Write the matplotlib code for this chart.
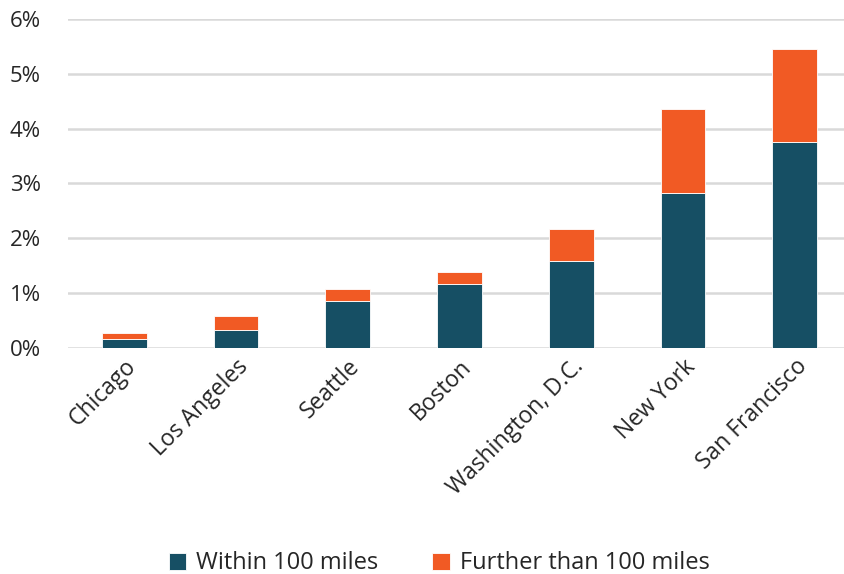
import matplotlib.pyplot as plt
import numpy as np

plt.rcParams['font.family'] = ['Open Sans', 'DejaVu Sans']

cities = ["Chicago", "Los Angeles", "Seattle", "Boston", "Washington, D.C.", "New York", "San Francisco"]
within = [0.17, 0.33, 0.85, 1.17, 1.59, 2.83, 3.76]
total = [0.27, 0.58, 1.07, 1.38, 2.16, 4.36, 5.45]
further = [t - w for t, w in zip(total, within)]

teal = "#164F64"
orange = "#F15A24"

fig = plt.figure(figsize=(8.44, 5.74), dpi=100)
ax = fig.add_axes([0.081, 0.394, 0.919, 0.573])

x = np.arange(len(cities))
ax.bar(x, within, 0.4, color=teal, edgecolor="white", linewidth=0.6, label="Within 100 miles", zorder=3)
ax.bar(x, further, 0.4, bottom=within, color=orange, edgecolor="white", linewidth=0.6,
       label="Further than 100 miles", zorder=3)

ax.set_ylim(0, 6)
ax.set_xlim(-0.5, 6.44)
ax.set_yticks(range(7))
ax.set_yticklabels([f"{i}%" for i in range(7)], fontsize=16, color="#262626")
ax.yaxis.grid(True, color="#D9D9D9", linewidth=1.8, zorder=0)
ax.tick_params(axis="y", length=0, pad=20)
ax.tick_params(axis="x", length=0, pad=5)
ax.set_xticks(x)
ax.set_xticklabels(cities, rotation=45, ha="right", rotation_mode="anchor", fontsize=16.5, color="#262626")
for s in ax.spines.values():
    s.set_visible(False)

ax.legend(loc="lower center", bbox_to_anchor=(0.478, -0.735), ncol=2, frameon=False, fontsize=17,
          handlelength=0.75, handleheight=0.75, handletextpad=0.4, columnspacing=2.3,
          labelcolor="#262626", borderaxespad=0.2)

fig.savefig("out.png", dpi=100)
